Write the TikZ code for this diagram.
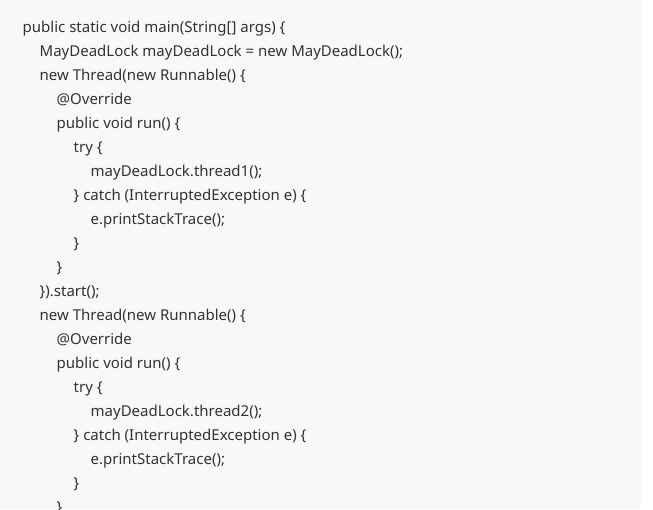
\documentclass[tikz,border=0pt]{standalone}
\usepackage{fontspec}
\setmainfont{Noto Sans}
\definecolor{bgc}{HTML}{F8F8F8}
\definecolor{txt}{HTML}{333333}
\begin{document}
\begin{tikzpicture}[x=1pt,y=-1pt,
  code/.style={anchor=base west,inner sep=0pt,text=txt,font=\fontsize{15}{15}\selectfont}]
\useasboundingbox (0,0) rectangle (653,509);
\clip (0,0) rectangle (653,509);
\fill[white] (0,0) rectangle (653,509);
\fill[bgc] (0,0) rectangle (641,509);
\def\ind{17}
\node[code] (l1) at (22.5,32.5) {public static void main(String[] args) \{};
\node[code] (l2) at (22.5+\ind,56.5) {MayDeadLock mayDeadLock = new MayDeadLock();};
\node[code] (l3) at (22.5+\ind,80.5) {new Thread(new Runnable() \{};
\node[code] (l4) at (22.5+2*\ind,104.5) {@Override};
\node[code] (l5) at (22.5+2*\ind,128.5) {public void run() \{};
\node[code] (l6) at (22.5+3*\ind,152.5) {try \{};
\node[code] (l7) at (22.5+4*\ind,176.5) {mayDeadLock.thread1();};
\node[code] (l8) at (22.5+3*\ind,200.5) {\} catch (InterruptedException e) \{};
\node[code] (l9) at (22.5+4*\ind,224.5) {e.printStackTrace();};
\node[code] (l10) at (22.5+3*\ind,248.5) {\}};
\node[code] (l11) at (22.5+2*\ind,272.5) {\}};
\node[code] (l12) at (22.5+\ind,296.5) {\}).start();};
\node[code] (l13) at (22.5+\ind,320.5) {new Thread(new Runnable() \{};
\node[code] (l14) at (22.5+2*\ind,344.5) {@Override};
\node[code] (l15) at (22.5+2*\ind,368.5) {public void run() \{};
\node[code] (l16) at (22.5+3*\ind,392.5) {try \{};
\node[code] (l17) at (22.5+4*\ind,416.5) {mayDeadLock.thread2();};
\node[code] (l18) at (22.5+3*\ind,440.5) {\} catch (InterruptedException e) \{};
\node[code] (l19) at (22.5+4*\ind,464.5) {e.printStackTrace();};
\node[code] (l20) at (22.5+3*\ind,488.5) {\}};
\node[code] (l21) at (22.5+2*\ind,512.5) {\}};
\end{tikzpicture}
\end{document}
